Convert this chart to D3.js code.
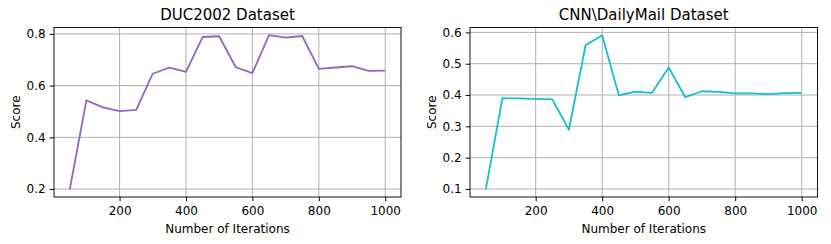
<!DOCTYPE html>
<meta charset="utf-8">
<head>
<script src="https://d3js.org/d3.v7.min.js"></script>
<style>
  body { margin: 0; background: #fff; }
  text { font-family: "DejaVu Sans", sans-serif; fill: #000; }
</style>
</head>
<body>
<div id="chart"></div>
<script>
// iterations shared by both panels
var iterations = [50, 100, 150, 200, 250, 300, 350, 400, 450, 500,
                  550, 600, 650, 700, 750, 800, 850, 900, 950, 1000];

// DUC2002 scores
var ducScores = [0.199, 0.543, 0.516, 0.501, 0.506, 0.646, 0.670, 0.653, 0.788, 0.791,
                 0.671, 0.648, 0.795, 0.786, 0.792, 0.665, 0.670, 0.675, 0.657, 0.658];

// CNN\DailyMail scores
var cnnScores = [0.099, 0.390, 0.389, 0.388, 0.386, 0.289, 0.559, 0.591, 0.399, 0.411,
                 0.407, 0.488, 0.393, 0.412, 0.410, 0.405, 0.405, 0.403, 0.406, 0.407];

var xTicks = [200, 400, 600, 800, 1000];
var ducTicks = [0.2, 0.4, 0.6, 0.8];
var cnnTicks = [0.1, 0.2, 0.3, 0.4, 0.5, 0.6];

var svg = d3.select("#chart").append("svg")
    .attr("width", 831)
    .attr("height", 244);

// pad domain by 5% like matplotlib
function padded(vals) {
  var ext = d3.extent(vals), d = (ext[1] - ext[0]) * 0.05;
  return [ext[0] - d, ext[1] + d];
}

function panel(opts) {
  var x = d3.scaleLinear().domain(padded(iterations)).range([opts.left, opts.right]);
  var y = d3.scaleLinear().domain(padded(opts.values)).range([opts.bottom, opts.top]);
  var g = svg.append("g");

  // grid
  g.selectAll(".gx").data(xTicks).enter().append("line")
    .attr("x1", function(d){ return x(d); }).attr("x2", function(d){ return x(d); })
    .attr("y1", opts.top).attr("y2", opts.bottom)
    .attr("stroke", "#b0b0b0").attr("stroke-width", 1);
  g.selectAll(".gy").data(opts.ticks).enter().append("line")
    .attr("y1", function(d){ return y(d); }).attr("y2", function(d){ return y(d); })
    .attr("x1", opts.left).attr("x2", opts.right)
    .attr("stroke", "#b0b0b0").attr("stroke-width", 1);

  // data line
  var line = d3.line()
    .x(function(d, i){ return x(iterations[i]); })
    .y(function(d){ return y(d); });
  g.append("path").datum(opts.values)
    .attr("d", line)
    .attr("fill", "none")
    .attr("stroke", opts.color)
    .attr("stroke-width", 1.8)
    .attr("stroke-linejoin", "round");

  // axes
  var xAxis = g.append("g")
    .attr("transform", "translate(0," + opts.bottom + ")")
    .call(d3.axisBottom(x).tickValues(xTicks).tickSize(4.2).tickPadding(5.3).tickFormat(d3.format("d")));
  var yAxis = g.append("g")
    .attr("transform", "translate(" + opts.left + ",0)")
    .call(d3.axisLeft(y).tickValues(opts.ticks).tickSize(4.2).tickPadding(4.2).tickFormat(d3.format(".1f")));
  [xAxis, yAxis].forEach(function(a){
    a.select(".domain").remove();
    a.selectAll("line").attr("stroke", "#000").attr("stroke-width", 1);
    a.selectAll("text").attr("font-size", "12px").attr("font-family", "DejaVu Sans").attr("fill", "#000");
  });

  // frame
  g.append("rect")
    .attr("x", opts.left).attr("y", opts.top)
    .attr("width", opts.right - opts.left).attr("height", opts.bottom - opts.top)
    .attr("fill", "none").attr("stroke", "#111").attr("stroke-width", 1);

  // titles and labels
  g.append("text")
    .attr("x", (opts.left + opts.right) / 2).attr("y", 19.5)
    .attr("text-anchor", "middle").attr("font-size", "15px")
    .text(opts.title);
  g.append("text")
    .attr("x", (opts.left + opts.right) / 2).attr("y", 232.5)
    .attr("text-anchor", "middle").attr("font-size", "12px")
    .text("Number of Iterations");
  g.append("text")
    .attr("transform", "translate(" + opts.ylabelX + "," + (opts.top + opts.bottom) / 2 + ") rotate(-90)")
    .attr("text-anchor", "middle").attr("font-size", "12px")
    .text("Score");
}

panel({ left: 54, right: 401, top: 27.5, bottom: 197,
        values: ducScores, ticks: ducTicks, color: "#9467bd",
        title: "DUC2002 Dataset", ylabelX: 19.5 });
panel({ left: 470, right: 817.5, top: 27.5, bottom: 197,
        values: cnnScores, ticks: cnnTicks, color: "#17becf",
        title: "CNN\\DailyMail Dataset", ylabelX: 435.5 });
</script>
</body>
